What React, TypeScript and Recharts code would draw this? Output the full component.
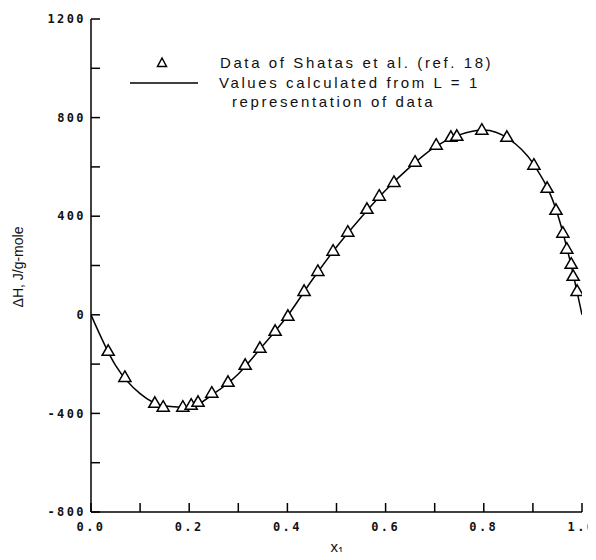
import {
  ComposedChart,
  Line,
  Scatter,
  XAxis,
  YAxis,
  Legend,
} from "recharts";

// measured points, Shatas et al.
const dataX = [
  0.035, 0.069, 0.13, 0.147, 0.187, 0.204, 0.218, 0.246, 0.279, 0.314, 0.344,
  0.375, 0.401, 0.434, 0.462, 0.493, 0.523, 0.562, 0.587, 0.617, 0.66, 0.703,
  0.733, 0.745, 0.796, 0.847, 0.902, 0.929, 0.947, 0.961, 0.969, 0.978, 0.982,
  0.99,
];
const dataH = [
  -150, -256, -361, -377, -377, -369, -357, -320, -276, -207, -138, -69, -8,
  93, 174, 256, 333, 426, 479, 535, 617, 686, 718, 722, 747, 718, 605, 511,
  422, 329, 264, 203, 154, 93,
];

// L = 1 fitted curve
const curveX = [
  0, 0.05, 0.1, 0.15, 0.2, 0.25, 0.3, 0.35, 0.4, 0.45, 0.5, 0.55, 0.6, 0.65,
  0.7, 0.75, 0.8, 0.85, 0.9, 0.95, 0.975, 1.0,
];
const curveH = [
  0, -205, -320, -370, -375, -320, -240, -125, -5, 140, 275, 395, 505, 600,
  680, 730, 750, 715, 615, 410, 225, 0,
];

const xTicks = [0, 0.1, 0.2, 0.3, 0.4, 0.5, 0.6, 0.7, 0.8, 0.9, 1.0];
const yTicks = [-800, -600, -400, -200, 0, 200, 400, 600, 800, 1000, 1200];

const points = dataX.map((x, i) => ({ x, h: dataH[i] }));
const curve = curveX.map((x, i) => ({ x, h: curveH[i] }));

const tickFont = {
  fontFamily: "'DejaVu Sans Mono', monospace",
  fontWeight: "bold" as const,
  fontSize: 12,
  fill: "#111",
  letterSpacing: 2.4,
};

const fmtX = (v: number) =>
  Math.round(v * 10) % 2 === 0 ? v.toFixed(1) : "";
const fmtY = (v: number) => (v % 400 === 0 ? String(v) : "");

function LegendBox() {
  const textStyle: React.CSSProperties = {
    fontFamily: "'Liberation Sans', sans-serif",
    fontSize: 15,
    letterSpacing: 2.6,
    color: "#111",
    lineHeight: "19.5px",
    whiteSpace: "nowrap",
  };
  return (
    <div style={{ position: "relative", width: 380, height: 70 }}>
      <svg
        width={80}
        height={40}
        style={{ position: "absolute", left: 0, top: 0 }}
      >
        <polygon
          points="36,5 31.5,13.5 40.5,13.5"
          fill="#fff"
          stroke="#000"
          strokeWidth={1.5}
        />
        <line x1={4} x2={72} y1={30} y2={30} stroke="#000" strokeWidth={1.5} />
      </svg>
      <div style={{ ...textStyle, position: "absolute", left: 94, top: 0 }}>
        Data of Shatas et al. (ref. 18)
      </div>
      <div style={{ ...textStyle, position: "absolute", left: 93, top: 20 }}>
        Values calculated from L = 1
      </div>
      <div style={{ ...textStyle, position: "absolute", left: 106, top: 39 }}>
        representation of data
      </div>
    </div>
  );
}

export default function App() {
  return (
    <div style={{ margin: -8 }}>
      <ComposedChart
        width={596}
        height={560}
        margin={{ top: 19, right: 14, bottom: 18, left: 31 }}
        style={{ background: "#fff" }}
      >
        <XAxis
          type="number"
          dataKey="x"
          domain={[0, 1]}
          ticks={xTicks}
          tickFormatter={fmtX}
          interval={0}
          tickSize={-9}
          tickMargin={19}
          height={30}
          stroke="#000"
          strokeWidth={1.5}
          tick={tickFont}
          allowDataOverflow
          label={{
            content: () => (
              <text
                x={337}
                y={552}
                textAnchor="middle"
                fontFamily="'Liberation Sans', sans-serif"
                fontSize={15}
                fill="#111"
              >
                x
                <tspan fontSize={10} dy={3}>
                  1
                </tspan>
              </text>
            ),
          }}
        />
        <YAxis
          type="number"
          dataKey="h"
          domain={[-800, 1200]}
          ticks={yTicks}
          tickFormatter={fmtY}
          interval={0}
          tickSize={-9}
          tickMargin={14}
          width={60}
          stroke="#000"
          strokeWidth={1.5}
          tick={tickFont}
          allowDataOverflow
          label={{
            content: () => (
              <text
                x={23}
                y={267}
                transform="rotate(-90 23 267)"
                textAnchor="middle"
                fontFamily="'Liberation Sans', sans-serif"
                fontSize={14}
                fill="#111"
              >
                ΔH, J/g-mole
              </text>
            ),
          }}
        />
        <Legend
          layout="horizontal"
          verticalAlign="middle"
          align="center"
          content={() => <LegendBox />}
          wrapperStyle={{ top: 53, left: 126, width: 380 }}
        />
        <Line
          data={curve}
          dataKey="h"
          type="monotone"
          stroke="#000"
          strokeWidth={1.5}
          dot={false}
          isAnimationActive={false}
        />
        <Scatter
          data={points}
          dataKey="h"
          shape="triangle"
          size={45}
          fill="#fff"
          stroke="#000"
          strokeWidth={1.5}
          isAnimationActive={false}
        />
      </ComposedChart>
    </div>
  );
}
